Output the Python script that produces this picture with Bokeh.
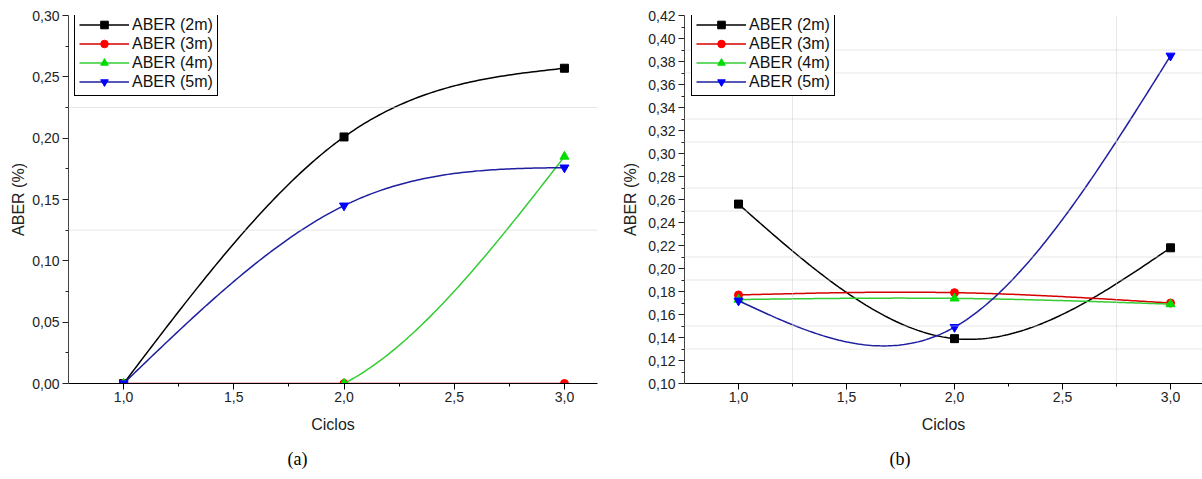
import numpy as np
from bokeh.plotting import figure
from bokeh.models import Range1d, FixedTicker, CustomJSTickFormatter, Span, Title
from bokeh.layouts import row
from bokeh.embed import file_html
from bokeh.resources import INLINE

# ---------------- data ----------------
CICLOS = [1.0, 2.0, 3.0]
SERIES = ["ABER (2m)", "ABER (3m)", "ABER (4m)", "ABER (5m)"]

A_2M = [0.000, 0.201, 0.257]
A_3M = [0.000, 0.000, 0.000]
A_4M = [0.000, 0.000, 0.185]
A_5M = [0.000, 0.145, 0.176]

B_2M = [0.256, 0.139, 0.218]
B_3M = [0.177, 0.179, 0.170]
B_4M = [0.173, 0.174, 0.169]
B_5M = [0.172, 0.149, 0.385]

X_TICKS = [1.0, 1.5, 2.0, 2.5, 3.0]
X_MINOR = [1.25, 1.75, 2.25, 2.75]
Y_TICKS_A = [0.0, 0.05, 0.10, 0.15, 0.20, 0.25, 0.30]
Y_MINOR_A = [0.025, 0.075, 0.125, 0.175, 0.225, 0.275]
Y_TICKS_B = [0.10, 0.12, 0.14, 0.16, 0.18, 0.20, 0.22, 0.24, 0.26, 0.28,
             0.30, 0.32, 0.34, 0.36, 0.38, 0.40, 0.42]
Y_MINOR_B = [0.11, 0.13, 0.15, 0.17, 0.19, 0.21, 0.23, 0.25, 0.27, 0.29,
             0.31, 0.33, 0.35, 0.37, 0.39, 0.41]
HGRID_A = [0.125, 0.225]
HGRID_B = [0.13, 0.15, 0.19, 0.21, 0.25, 0.27, 0.31, 0.33, 0.37, 0.39]
VGRID_B = [1.25, 2.75]

LINE_COLORS = ["#000000", "#d40000", "#33cc33", "#1f1fa0"]
MARK_COLORS = ["#000000", "#ff0000", "#00dd00", "#0000ff"]
MARKERS = ["square", "circle", "triangle", "inverted_triangle"]
MSIZES = [8, 8, 9, 9]

FONT = "Liberation Sans"


def natural_spline(xs, ys, n=160):
    xs = np.asarray(xs, float)
    ys = np.asarray(ys, float)
    k = len(xs)
    h = np.diff(xs)
    A = np.zeros((k, k))
    r = np.zeros(k)
    A[0, 0] = A[-1, -1] = 1.0
    for i in range(1, k - 1):
        A[i, i - 1] = h[i - 1]
        A[i, i] = 2 * (h[i - 1] + h[i])
        A[i, i + 1] = h[i]
        r[i] = 6 * ((ys[i + 1] - ys[i]) / h[i] - (ys[i] - ys[i - 1]) / h[i - 1])
    M = np.linalg.solve(A, r)
    xx = np.linspace(xs[0], xs[-1], n)
    idx = np.clip(np.searchsorted(xs, xx) - 1, 0, k - 2)
    x0 = xs[idx]
    x1 = xs[idx + 1]
    hh = x1 - x0
    a = (x1 - xx) / hh
    b = (xx - x0) / hh
    yy = a * ys[idx] + b * ys[idx + 1] + ((a ** 3 - a) * M[idx] + (b ** 3 - b) * M[idx + 1]) * hh ** 2 / 6
    return xx, yy


def make_fig(series, width, left, right, x_end, y0, y1, yticks, yminor, ydec,
             hgrid, vgrid, caption, cap_offset, legend_xy, ylab_standoff):
    p = figure(width=width, height=479, x_range=Range1d(0.75, x_end),
               y_range=Range1d(y0, y1), output_backend="svg", toolbar_location=None,
               min_border_left=left, min_border_right=right, min_border_top=15,
               min_border_bottom=94)
    p.outline_line_color = None
    p.xgrid.visible = False
    p.ygrid.visible = False

    for v in hgrid:
        p.add_layout(Span(location=v, dimension="width", line_color="#cfcfcf",
                          line_dash="1 1", line_width=1))
    for v in vgrid:
        p.add_layout(Span(location=v, dimension="height", line_color="#cfcfcf",
                          line_dash="1 1", line_width=1))

    for i, ys in enumerate(series):
        xx, yy = natural_spline(CICLOS, ys)
        p.line(xx, yy, line_color=LINE_COLORS[i], line_width=1.5, legend_label=SERIES[i])
        p.scatter(CICLOS, ys, marker=MARKERS[i], size=MSIZES[i], fill_color=MARK_COLORS[i],
                  line_color=MARK_COLORS[i], legend_label=SERIES[i])

    # axes
    p.xaxis.ticker = FixedTicker(ticks=X_TICKS, minor_ticks=X_MINOR)
    p.yaxis.ticker = FixedTicker(ticks=yticks, minor_ticks=yminor)
    p.xaxis.formatter = CustomJSTickFormatter(code="return tick.toFixed(1).replace('.', ',');")
    p.yaxis.formatter = CustomJSTickFormatter(
        code="return tick.toFixed(%d).replace('.', ',');" % ydec)
    for ax in (p.xaxis[0], p.yaxis[0]):
        ax.major_tick_out = 6
        ax.major_tick_in = 0
        ax.minor_tick_out = 3
        ax.minor_tick_in = 0
        ax.major_label_text_font = FONT
        ax.major_label_text_font_size = "14px"
        ax.major_label_text_color = "#222222"
        ax.axis_label_text_font = FONT
        ax.axis_label_text_font_size = "16px"
        ax.axis_label_text_font_style = "normal"
        ax.axis_label_text_color = "#222222"
    p.xaxis.axis_line_color = "#000000"
    p.xaxis.major_tick_line_color = "#000000"
    p.xaxis.minor_tick_line_color = "#000000"
    p.yaxis.axis_line_color = "#444444"
    p.yaxis.major_tick_line_color = "#222222"
    p.yaxis.minor_tick_line_color = "#222222"
    p.xaxis.axis_label = "Ciclos"
    p.yaxis.axis_label = "ABER (%)"
    p.xaxis.major_label_standoff = 2
    p.yaxis.major_label_standoff = 3
    p.xaxis.axis_label_standoff = 11
    p.yaxis.axis_label_standoff = ylab_standoff

    # legend
    lg = p.legend[0]
    lg.location = legend_xy
    lg.border_line_color = "#000000"
    lg.border_line_width = 1
    lg.border_line_alpha = 1
    lg.background_fill_color = "#ffffff"
    lg.background_fill_alpha = 1
    lg.padding = 4
    lg.margin = 0
    lg.spacing = 0
    lg.glyph_width = 50
    lg.glyph_height = 19
    lg.label_height = 19
    lg.label_standoff = 3
    lg.label_text_font = FONT
    lg.label_text_font_size = "16px"
    lg.label_text_color = "#111111"

    p.add_layout(Title(text=caption, align="left", offset=cap_offset,
                       text_font="Liberation Serif", text_font_size="18px",
                       text_font_style="normal", text_color="#000000", standoff=22),
                 "below")
    return p


pa = make_fig([A_2M, A_3M, A_4M, A_5M], width=608, left=68, right=11, x_end=3.15,
              y0=0.0, y1=0.30, yticks=Y_TICKS_A, yminor=Y_MINOR_A, ydec=2,
              hgrid=HGRID_A, vgrid=[], caption="(a)", cap_offset=219,
              legend_xy=(6, 287), ylab_standoff=2)
pb = make_fig([B_2M, B_3M, B_4M, B_5M], width=594, left=76, right=0, x_end=3.148,
              y0=0.10, y1=0.42, yticks=Y_TICKS_B, yminor=Y_MINOR_B, ydec=2,
              hgrid=HGRID_B, vgrid=VGRID_B, caption="(b)", cap_offset=205,
              legend_xy=(7, 287), ylab_standoff=6)

layout = row(pa, pb, spacing=0)
open("out.html", "w").write(file_html(layout, INLINE))
